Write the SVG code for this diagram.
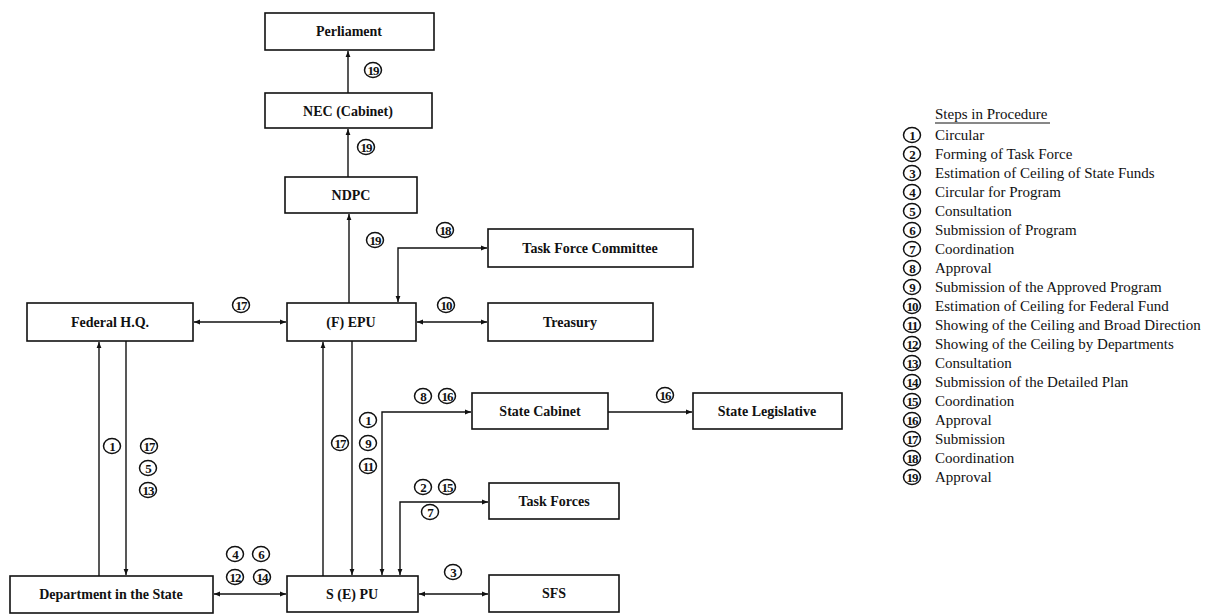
<svg xmlns="http://www.w3.org/2000/svg" width="1209" height="616" viewBox="0 0 1209 616">
<style>
.box{fill:#fff;stroke:#111;stroke-width:1.6}
.nt{font-family:"Liberation Serif",serif;font-weight:bold;font-size:14px;fill:#111;text-anchor:middle;dominant-baseline:central}
.ln{fill:none;stroke:#111;stroke-width:1.4}
.cc{fill:#fff;stroke:#111;stroke-width:1.5}
.cn{font-family:"Liberation Serif",serif;font-weight:bold;font-size:13px;letter-spacing:-0.9px;fill:#111;text-anchor:middle;dominant-baseline:central}
.lg{font-family:"Liberation Serif",serif;font-size:15px;fill:#111}
</style>
<defs>
<marker id="ah" viewBox="0 0 10 10" refX="10" refY="5" markerWidth="6" markerHeight="6" orient="auto-start-reverse" markerUnits="userSpaceOnUse">
<path d="M0,1 L10,5 L0,9 Z" fill="#111"/>
</marker>
<g id="c"><ellipse rx="8.5" ry="7.5" class="cc"/></g>
</defs>
<rect width="1209" height="616" fill="#fff"/>

<g id="connectors">
<line class="ln" x1="348" y1="93" x2="348" y2="51" marker-end="url(#ah)"/>
<line class="ln" x1="348" y1="177" x2="348" y2="129" marker-end="url(#ah)"/>
<line class="ln" x1="349" y1="303" x2="349" y2="214" marker-end="url(#ah)"/>
<path class="ln" d="M398,302 V248 H487" marker-start="url(#ah)" marker-end="url(#ah)"/>
<line class="ln" x1="194" y1="322" x2="286" y2="322" marker-start="url(#ah)" marker-end="url(#ah)"/>
<line class="ln" x1="417" y1="322" x2="487" y2="322" marker-start="url(#ah)" marker-end="url(#ah)"/>
<line class="ln" x1="99" y1="576" x2="99" y2="342" marker-end="url(#ah)"/>
<line class="ln" x1="126" y1="341" x2="126" y2="575" marker-end="url(#ah)"/>
<line class="ln" x1="323" y1="576" x2="323" y2="342" marker-end="url(#ah)"/>
<line class="ln" x1="352" y1="341" x2="352" y2="575" marker-end="url(#ah)"/>
<path class="ln" d="M382,575 V412 H471" marker-start="url(#ah)" marker-end="url(#ah)"/>
<line class="ln" x1="608" y1="412" x2="692" y2="412" marker-end="url(#ah)"/>
<path class="ln" d="M400,575 V502 H488" marker-start="url(#ah)" marker-end="url(#ah)"/>
<line class="ln" x1="419" y1="594" x2="488" y2="594" marker-start="url(#ah)" marker-end="url(#ah)"/>
<line class="ln" x1="214" y1="594" x2="286" y2="594" marker-start="url(#ah)" marker-end="url(#ah)"/>
</g>

<g id="node-perliament"><rect class="box" x="265" y="13" width="169" height="37"/><text class="nt" x="349" y="31">Perliament</text></g>
<g id="node-nec"><rect class="box" x="265" y="93" width="167" height="35"/><text class="nt" x="348" y="111">NEC  (Cabinet)</text></g>
<g id="node-ndpc"><rect class="box" x="285" y="177" width="132" height="36"/><text class="nt" x="351" y="195">NDPC</text></g>
<g id="node-tfc"><rect class="box" x="488" y="229" width="205" height="38"/><text class="nt" x="590" y="248">Task Force Committee</text></g>
<g id="node-fedhq"><rect class="box" x="27" y="303" width="166" height="38"/><text class="nt" x="110" y="322">Federal H.Q.</text></g>
<g id="node-fepu"><rect class="box" x="287" y="303" width="129" height="38"/><text class="nt" x="351" y="322">(F) EPU</text></g>
<g id="node-treasury"><rect class="box" x="488" y="303" width="165" height="38"/><text class="nt" x="570" y="322">Treasury</text></g>
<g id="node-statecabinet"><rect class="box" x="472" y="393" width="136" height="36"/><text class="nt" x="540" y="411">State Cabinet</text></g>
<g id="node-statelegislative"><rect class="box" x="693" y="393" width="149" height="36"/><text class="nt" x="767" y="411">State Legislative</text></g>
<g id="node-taskforces"><rect class="box" x="489" y="483" width="130" height="36"/><text class="nt" x="554" y="501">Task Forces</text></g>
<g id="node-dept"><rect class="box" x="10" y="576" width="203" height="37"/><text class="nt" x="111" y="594">Department in the State</text></g>
<g id="node-sepu"><rect class="box" x="287" y="576" width="131" height="36"/><text class="nt" x="352" y="594">S (E) PU</text></g>
<g id="node-sfs"><rect class="box" x="489" y="575" width="130" height="37"/><text class="nt" x="554" y="593">SFS</text></g>

<g id="labels">
<use href="#c" x="373" y="70"/><text class="cn" x="373" y="70">19</text>
<use href="#c" x="366" y="147"/><text class="cn" x="366" y="147">19</text>
<use href="#c" x="375" y="240"/><text class="cn" x="375" y="240">19</text>
<use href="#c" x="445" y="230"/><text class="cn" x="445" y="230">18</text>
<use href="#c" x="241" y="305"/><text class="cn" x="241" y="305">17</text>
<use href="#c" x="446" y="305"/><text class="cn" x="446" y="305">10</text>
<use href="#c" x="112" y="446"/><text class="cn" x="112" y="446">1</text>
<use href="#c" x="149" y="446"/><text class="cn" x="149" y="446">17</text>
<use href="#c" x="148" y="468"/><text class="cn" x="148" y="468">5</text>
<use href="#c" x="148" y="490"/><text class="cn" x="148" y="490">13</text>
<use href="#c" x="340" y="443"/><text class="cn" x="340" y="443">17</text>
<use href="#c" x="368" y="420"/><text class="cn" x="368" y="420">1</text>
<use href="#c" x="368" y="443"/><text class="cn" x="368" y="443">9</text>
<use href="#c" x="368" y="466"/><text class="cn" x="368" y="466">11</text>
<use href="#c" x="423" y="396"/><text class="cn" x="423" y="396">8</text>
<use href="#c" x="447" y="396"/><text class="cn" x="447" y="396">16</text>
<use href="#c" x="665" y="395"/><text class="cn" x="665" y="395">16</text>
<use href="#c" x="423" y="487"/><text class="cn" x="423" y="487">2</text>
<use href="#c" x="447" y="487"/><text class="cn" x="447" y="487">15</text>
<use href="#c" x="430" y="512"/><text class="cn" x="430" y="512">7</text>
<use href="#c" x="453" y="572"/><text class="cn" x="453" y="572">3</text>
<use href="#c" x="235" y="554"/><text class="cn" x="235" y="554">4</text>
<use href="#c" x="261" y="554"/><text class="cn" x="261" y="554">6</text>
<use href="#c" x="235" y="577"/><text class="cn" x="235" y="577">12</text>
<use href="#c" x="262" y="577"/><text class="cn" x="262" y="577">14</text>
</g>

<g id="legend">
<text class="lg" x="935" y="119">Steps in Procedure</text>
<line x1="935" y1="123" x2="1050" y2="123" stroke="#111" stroke-width="1"/>
<g id="lg-circles">
<use href="#c" x="912" y="135"/><use href="#c" x="912" y="154"/><use href="#c" x="912" y="173"/><use href="#c" x="912" y="192"/><use href="#c" x="912" y="211"/><use href="#c" x="912" y="230"/><use href="#c" x="912" y="249"/><use href="#c" x="912" y="268"/><use href="#c" x="912" y="287"/><use href="#c" x="912" y="306"/><use href="#c" x="912" y="325"/><use href="#c" x="912" y="344"/><use href="#c" x="912" y="363"/><use href="#c" x="912" y="382"/><use href="#c" x="912" y="401"/><use href="#c" x="912" y="420"/><use href="#c" x="912" y="439"/><use href="#c" x="912" y="458"/><use href="#c" x="912" y="477"/>
</g>
<text class="cn" x="912" y="135">1</text><text class="lg" x="935" y="140">Circular</text>
<text class="cn" x="912" y="154">2</text><text class="lg" x="935" y="159">Forming of Task Force</text>
<text class="cn" x="912" y="173">3</text><text class="lg" x="935" y="178">Estimation of Ceiling of State Funds</text>
<text class="cn" x="912" y="192">4</text><text class="lg" x="935" y="197">Circular for Program</text>
<text class="cn" x="912" y="211">5</text><text class="lg" x="935" y="216">Consultation</text>
<text class="cn" x="912" y="230">6</text><text class="lg" x="935" y="235">Submission of Program</text>
<text class="cn" x="912" y="249">7</text><text class="lg" x="935" y="254">Coordination</text>
<text class="cn" x="912" y="268">8</text><text class="lg" x="935" y="273">Approval</text>
<text class="cn" x="912" y="287">9</text><text class="lg" x="935" y="292">Submission of the Approved Program</text>
<text class="cn" x="912" y="306">10</text><text class="lg" x="935" y="311">Estimation of Ceiling for Federal Fund</text>
<text class="cn" x="912" y="325">11</text><text class="lg" x="935" y="330">Showing of the Ceiling and Broad Direction</text>
<text class="cn" x="912" y="344">12</text><text class="lg" x="935" y="349">Showing of the Ceiling by Departments</text>
<text class="cn" x="912" y="363">13</text><text class="lg" x="935" y="368">Consultation</text>
<text class="cn" x="912" y="382">14</text><text class="lg" x="935" y="387">Submission of the Detailed Plan</text>
<text class="cn" x="912" y="401">15</text><text class="lg" x="935" y="406">Coordination</text>
<text class="cn" x="912" y="420">16</text><text class="lg" x="935" y="425">Approval</text>
<text class="cn" x="912" y="439">17</text><text class="lg" x="935" y="444">Submission</text>
<text class="cn" x="912" y="458">18</text><text class="lg" x="935" y="463">Coordination</text>
<text class="cn" x="912" y="477">19</text><text class="lg" x="935" y="482">Approval</text>
</g>
</svg>
